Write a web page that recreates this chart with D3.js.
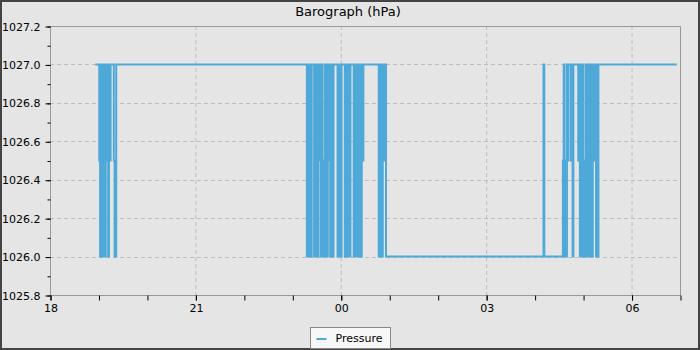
<!DOCTYPE html>
<html>
<head>
<meta charset="utf-8">
<script src="https://cdn.jsdelivr.net/npm/d3@7"></script>
<style>
  body { margin: 0; background: #e5e5e5; }
  svg { display: block; font-family: "DejaVu Sans", sans-serif; }
</style>
</head>
<body>
<script>
// minutes after 18:00 and barometer reading (hPa)
const minutes = [
  56, 60, 61, 62, 63, 64, 65, 66, 67, 68, 69, 70, 71, 72, 73, 74, 75, 78, 79, 80, 81, 82,
  317, 318, 319, 320, 321, 322, 323, 324, 326, 327, 328, 329, 330, 331, 332, 333, 334, 335,
  336, 337, 338, 339, 340, 341, 342, 343, 344, 345, 346, 347, 348, 349, 350, 351, 355, 356,
  357, 358, 359, 360, 361, 364, 365, 366, 367, 368, 369, 370, 371, 372, 375, 376, 377, 378,
  379, 380, 381, 382, 383, 384, 385, 386, 387, 388, 406, 407, 408, 409, 410, 411, 412, 413,
  414, 415, 416, 417, 610, 611, 612, 634,
  635, 636, 637, 638, 639, 640, 641, 642, 644, 645, 646, 647, 648, 653, 654, 655, 656, 657,
  658, 659, 660, 661, 662, 663, 664, 665, 666, 667, 668, 669, 670, 671, 672, 673, 674, 675,
  676, 677, 678, 679, 776
];
const pressure = [
  1027, 1027, 1026.5, 1026, 1027, 1026, 1027, 1026, 1027, 1026, 1027, 1026.5, 1027, 1026, 1027, 1026.5, 1027, 1027, 1026.5, 1026, 1026, 1027,
  1027, 1026, 1027, 1026, 1027, 1026.5, 1026, 1027, 1027, 1026, 1027, 1026, 1027, 1026, 1027, 1026.5, 1027, 1026,
  1027, 1026, 1026.5, 1026, 1027, 1026, 1027, 1026, 1027, 1026.5, 1027, 1026, 1026.5, 1027, 1026, 1027, 1027, 1026,
  1027, 1026, 1027, 1026, 1027, 1027, 1026, 1027, 1026, 1027, 1026, 1027, 1026, 1027, 1027, 1026, 1027, 1026,
  1027, 1026, 1027, 1026.5, 1026, 1027, 1026, 1027, 1026.5, 1027, 1027, 1026, 1027, 1026, 1027, 1026, 1027, 1027,
  1026.5, 1027, 1026, 1026, 1026, 1027, 1026, 1026,
  1026.5, 1027, 1026, 1026.5, 1026, 1027, 1026.5, 1027, 1027, 1026.5, 1027, 1026, 1027, 1027, 1026.5, 1027, 1026, 1027,
  1026, 1027, 1026, 1026.5, 1026, 1027, 1026, 1027, 1026, 1026.5, 1027, 1026, 1027, 1026, 1027, 1026.5, 1027, 1027,
  1026, 1027, 1026, 1027, 1027
];
const yTicks = [1025.8, 1026.0, 1026.2, 1026.4, 1026.6, 1026.8, 1027.0, 1027.2];
const seriesName = "Pressure";
const title = "Barograph (hPa)";

const W = 700, H = 350;
const m = {left: 50, right: 20, top: 26, bottom: 55};
const start = new Date(2024, 0, 1, 18, 0);
const end = new Date(2024, 0, 2, 7, 0);

const data = minutes.map((d, i) => ({t: d3.timeMinute.offset(start, d), v: pressure[i]}));

const svg = d3.select("body").append("svg")
    .attr("width", W).attr("height", H);

svg.append("rect")
    .attr("x", 1).attr("y", 1).attr("width", W - 2).attr("height", H - 2)
    .attr("fill", "#e5e5e5").attr("stroke", "#444").attr("stroke-width", 2);

const x = d3.scaleTime().domain([start, end]).range([m.left, W - m.right]);
const y = d3.scaleLinear().domain([1025.8, 1027.2]).range([H - m.bottom, m.top]);

const majorX = d3.timeHour.every(3).range(start, d3.timeMinute.offset(end, 1));
const minorX = d3.timeHour.every(1).range(start, d3.timeMinute.offset(end, 1));
const minorY = d3.range(1025.8, 1027.25, 0.1);

// grid
svg.append("g")
    .selectAll("line")
    .data(majorX.filter(d => +d !== +start))
    .join("line")
    .attr("x1", d => x(d) + 0.5).attr("x2", d => x(d) + 0.5)
    .attr("y1", m.top).attr("y2", H - m.bottom)
    .attr("stroke", "#bdbdbd").attr("stroke-dasharray", "4,3");

svg.append("g")
    .selectAll("line")
    .data(yTicks.slice(1, -1))
    .join("line")
    .attr("y1", d => Math.round(y(d)) + 0.5).attr("y2", d => Math.round(y(d)) + 0.5)
    .attr("x1", m.left).attr("x2", W - m.right)
    .attr("stroke", "#bdbdbd").attr("stroke-dasharray", "4,3");

// frame
svg.append("rect")
    .attr("x", m.left + 0.5).attr("y", m.top + 0.5)
    .attr("width", W - m.left - m.right).attr("height", H - m.top - m.bottom)
    .attr("fill", "none").attr("stroke", "#999");

// minor ticks
const xMinor = svg.append("g")
    .attr("transform", `translate(0.5,${H - m.bottom + 0.5})`)
    .call(d3.axisBottom(x).tickValues(minorX).tickSize(5).tickFormat(""));
xMinor.select(".domain").remove();

const yMinor = svg.append("g")
    .attr("transform", `translate(${m.left + 0.5},0.5)`)
    .call(d3.axisLeft(y).tickValues(minorY).tickSize(3).tickFormat(""));
yMinor.select(".domain").remove();

// major axes
const xAxis = svg.append("g")
    .attr("transform", `translate(0.5,${H - m.bottom + 0.5})`)
    .call(d3.axisBottom(x).tickValues(majorX).tickSize(5).tickPadding(4).tickFormat(d3.timeFormat("%H")));
xAxis.select(".domain").remove();
xAxis.selectAll("text").attr("font-size", 11).attr("fill", "#000").attr("font-family", "DejaVu Sans");

const yAxis = svg.append("g")
    .attr("transform", `translate(${m.left + 0.5},0.5)`)
    .call(d3.axisLeft(y).tickValues(yTicks).tickSize(5).tickPadding(5).tickFormat(d3.format(".1f")));
yAxis.select(".domain").remove();
yAxis.selectAll("text").attr("font-size", 11).attr("fill", "#000").attr("font-family", "DejaVu Sans");

// series
const line = d3.line().curve(d3.curveStepAfter).x(d => x(d.t)).y(d => y(d.v));
svg.append("path")
    .datum(data)
    .attr("fill", "none")
    .attr("stroke", "#4ea9d9")
    .attr("stroke-width", 2)
    .attr("d", line);

// title
svg.append("text")
    .attr("x", 348).attr("y", 16)
    .attr("text-anchor", "middle")
    .attr("font-size", 13)
    .text(title);

// legend
const lg = svg.append("g").attr("transform", "translate(310.5,327.5)");
lg.append("rect").attr("width", 80).attr("height", 21)
    .attr("fill", "#f7f7f7").attr("stroke", "#888");
lg.append("line").attr("x1", 6).attr("x2", 16).attr("y1", 11.5).attr("y2", 11.5)
    .attr("stroke", "#4ea9d9").attr("stroke-width", 2);
lg.append("text").attr("x", 25).attr("y", 14.5)
    .attr("font-size", 11).text(seriesName);
</script>
</body>
</html>
